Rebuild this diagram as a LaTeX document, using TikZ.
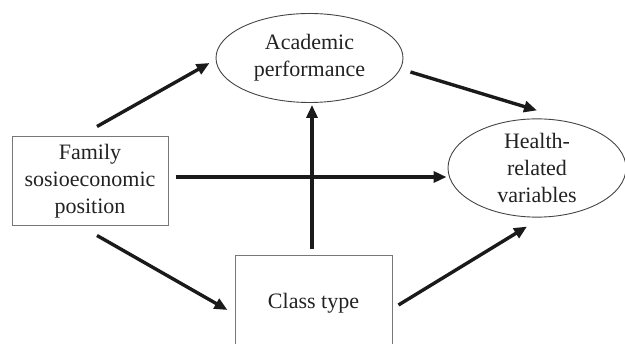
\documentclass[tikz,border=0pt]{standalone}
\usepackage{fontspec}
\setmainfont{Liberation Serif}
\usetikzlibrary{shapes.geometric,arrows.meta}
\definecolor{txt}{HTML}{222222}
\definecolor{boxc}{HTML}{777777}
\definecolor{ellc}{HTML}{444444}
\definecolor{arr}{HTML}{1A1A1A}
\tikzset{
  lbl/.style={text=txt,font=\fontsize{22}{27}\selectfont,align=center,inner sep=0pt},
  rbox/.style={lbl,draw=boxc,line width=1pt,rectangle},
  ell/.style={lbl,draw=ellc,line width=0.9pt,ellipse},
  conn/.style={draw=arr,line width=3.4pt,-{Triangle[length=13pt,width=11pt]}}
}
\begin{document}
\begin{tikzpicture}[x=1pt,y=-1pt]
\useasboundingbox (0,0) rectangle (625,344);
\clip (0,0) rectangle (625,344);
\node[rbox,minimum width=156pt,minimum height=89pt] (fam) at (90,181.5) {Family\\sosioeconomic\\position};
\node[ell,minimum width=187pt,minimum height=89pt] (acad) at (309.5,58) {Academic\\performance};
\node[ell,minimum width=178pt,minimum height=90pt] (health) at (537,168) {Health-\\related\\variables};
\node[rbox,minimum width=157pt,minimum height=96pt] (cls) at (313.5,304) {};
\node[lbl] (clst) at (313.5,303) {Class type};
\coordinate (vtop) at ([shift={(-1.5,2)}]cls.north |- acad.south);
\draw[conn] ([shift={(7,-10)}]fam.north) -- ([shift={(-6,5)}]acad.west);
\draw[conn] ([shift={(7,14)}]acad.east) -- ([shift={(0,-8)}]health.north);
\draw[conn] ([shift={(7,-4.5)}]fam.east) -- ([shift={(-1,9)}]health.west);
\draw[conn] ([shift={(-1.5,-6)}]cls.north) -- (vtop);
\draw[conn] ([shift={(7,9)}]fam.south) -- ([shift={(-7,6)}]cls.west);
\draw[conn] ([shift={(6,1)}]cls.east) -- ([shift={(-10,9)}]health.south);
\end{tikzpicture}
\end{document}
